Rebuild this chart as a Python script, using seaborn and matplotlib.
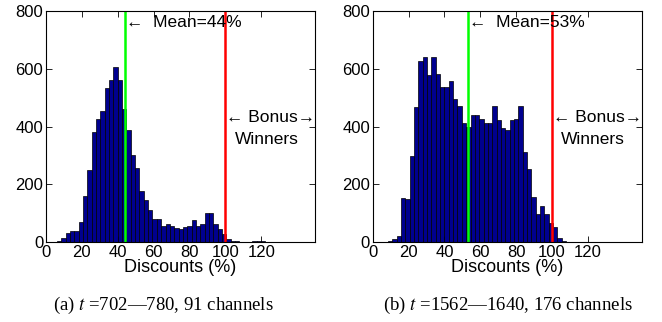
import numpy as np
import pandas as pd
import matplotlib
matplotlib.use("Agg")
import matplotlib.pyplot as plt
import seaborn as sns

# histogram counts (bin k = [start + k*width, start + (k+1)*width))
bin_start = 1.3
bin_width = 2.42

left_counts = [0, 1, 5, 14, 31, 39, 39, 70, 160, 251,
               382, 427, 454, 535, 561, 607, 560, 460, 390, 303,
               258, 178, 145, 112, 80, 80, 57, 62, 57, 51,
               46, 53, 57, 77, 58, 63, 103, 103, 62, 45,
               29, 11, 4, 3, 2, 1, 1, 3, 3, 3,
               2, 1, 0]
right_counts = [0, 0, 0, 3, 10, 23, 154, 150, 298, 467,
                628, 640, 579, 640, 581, 538, 538, 559, 496, 473,
                413, 400, 440, 440, 427, 413, 414, 472, 423, 394,
                388, 423, 425, 472, 314, 253, 158, 98, 126, 98,
                66, 54, 15, 5, 2, 1, 1, 1, 1, 1,
                1, 1, 1, 0]

means = [44, 53]
bonus_level = 100
captions = ["(a) $t$ =702\u2014780, 91 channels",
            "(b) $t$ =1562\u20141640, 176 channels"]
x_ticks = [0, 20, 40, 60, 80, 100, 120]
y_ticks = [0, 200, 400, 600, 800]

sns.set_style("ticks")
plt.rcParams['font.family'] = ['Liberation Sans', 'DejaVu Sans']
plt.rcParams['mathtext.fontset'] = 'stix'
plt.rcParams['text.color'] = 'black'
plt.rcParams['axes.labelcolor'] = 'black'
plt.rcParams['xtick.color'] = 'black'
plt.rcParams['ytick.color'] = 'black'
plt.rcParams['xtick.direction'] = 'in'
plt.rcParams['ytick.direction'] = 'in'
plt.rcParams['xtick.top'] = True
plt.rcParams['ytick.right'] = True
plt.rcParams['xtick.major.size'] = 4
plt.rcParams['ytick.major.size'] = 4
plt.rcParams['axes.linewidth'] = 0.8


def draw_panel(ax, counts, mean):
    n = len(counts)
    centers = bin_start + bin_width * (np.arange(n) + 0.5)
    df = pd.DataFrame({"discount": centers, "count": counts})
    sns.histplot(data=df, x="discount", weights="count", binwidth=bin_width,
                 binrange=(bin_start, bin_start + n * bin_width), ax=ax,
                 color="#00008F", edgecolor="black", linewidth=0.5, alpha=1)
    ax.axvline(mean, color="#00FF00", lw=1.8)
    ax.axvline(bonus_level, color="#FF0000", lw=1.8)
    ax.set_xlim(0, 150)
    ax.set_ylim(0, 800)
    ax.set_xticks(x_ticks)
    ax.set_yticks(y_ticks)
    ax.tick_params(labelsize=12, pad=2, width=0.6)
    ax.set_xlabel("Discounts (%)", fontsize=13, labelpad=-1)
    ax.set_ylabel("")
    for s in ax.spines.values():
        s.set_visible(True)
        s.set_color("black")
    ax.text(mean + 0.5, 760, "\u2190  Mean=%d%%" % mean, fontsize=12.5, va="center")
    ax.text(bonus_level + 0.5, 433, "\u2190 Bonus\u2192", fontsize=12.5, va="center")
    ax.text(123, 357, "Winners", fontsize=12.5, va="center", ha="center")


fig = plt.figure(figsize=(6.62, 3.22), dpi=100)
ax1 = fig.add_axes([46 / 662, 79.7 / 322, 269 / 662, 231.3 / 322])
ax2 = fig.add_axes([372.7 / 662, 79.7 / 322, 269 / 662, 231.3 / 322])

draw_panel(ax1, left_counts, means[0])
draw_panel(ax2, right_counts, means[1])

fig.text(163 / 662, 1 - 305 / 322, captions[0], fontsize=13.5, ha="center", va="center",
         family="Liberation Serif")
fig.text(508 / 662, 1 - 305 / 322, captions[1], fontsize=13.5, ha="center", va="center",
         family="Liberation Serif")

fig.savefig("out.png", dpi=100)
